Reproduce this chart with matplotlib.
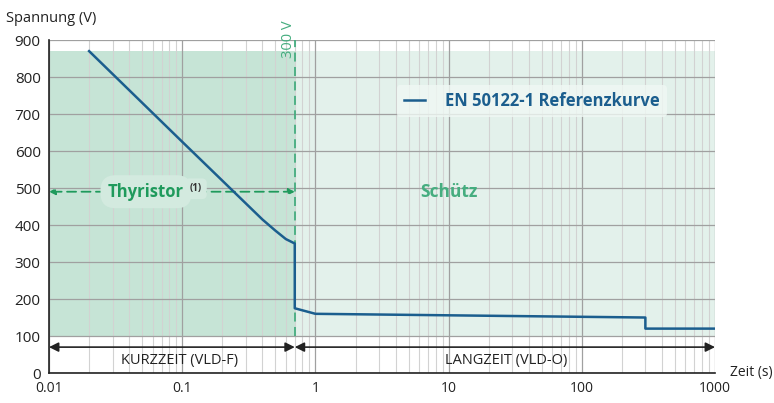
import matplotlib.pyplot as plt
from matplotlib.ticker import FixedLocator, LogLocator, NullFormatter

plt.rcParams['font.family'] = ['Open Sans', 'DejaVu Sans']

# EN 50122-1 reference curve (time in s, voltage in V)
curve_t = [0.02, 0.1, 0.4, 0.5, 0.6, 0.7, 0.7, 1.0, 300, 300, 1000]
curve_v = [870, 625, 415, 385, 362, 350, 175, 160, 150, 120, 120]

t_switch = 0.7          # boundary short-time / long-time
v_shade = (100, 870)    # shaded band
v_range_arrow = 70
v_thyristor = 490
x_ticks = [0.01, 0.1, 1, 10, 100, 1000]
x_labels = ['0.01', '0.1', '1', '10', '100', '1000']
y_ticks = list(range(0, 1000, 100))

blue = '#1b5e8e'
green = '#1f9a5c'
green_light = '#45ad7f'
glow = '#d3eadf'

fig = plt.figure(figsize=(7.74, 4.03), dpi=100)
ax = fig.add_axes([0.0633, 0.0744, 0.8605, 0.8263])
ax.set_xscale('log')
ax.set_xlim(0.01, 1000)
ax.set_ylim(0, 900)

# shaded regions
ax.fill_between([0.01, t_switch], v_shade[0], v_shade[1], color='#c6e4d6', lw=0, zorder=1)
ax.fill_between([t_switch, 1000], v_shade[0], v_shade[1], color='#e3f1eb', lw=0, zorder=1)

# grid
ax.set_axisbelow('line')
ax.xaxis.set_major_locator(FixedLocator(x_ticks))
ax.xaxis.set_minor_locator(LogLocator(base=10, subs=range(2, 10)))
ax.xaxis.set_minor_formatter(NullFormatter())
ax.set_xticks(x_ticks)
ax.set_xticklabels(x_labels)
ax.set_yticks(y_ticks)
ax.grid(True, which='major', color='#a0a0a0', lw=0.9)
ax.grid(True, which='minor', axis='x', color='#d2d2d2', lw=0.8)
ax.tick_params(which='both', length=0, colors='#222222', pad=6)
ax.tick_params(axis='x', labelsize=10)
ax.tick_params(axis='y', labelsize=11)
for s in ['top', 'right']:
    ax.spines[s].set_visible(False)
for s in ['left', 'bottom']:
    ax.spines[s].set_color('#222222')
    ax.spines[s].set_linewidth(1.2)

# 300 V dashed line
ax.plot([t_switch, t_switch], [v_shade[0], 900], color=green_light, ls=(0, (5, 3)), lw=1.3, zorder=2)
ax.text(0.63, 852, '300 V', rotation=90, ha='center', va='bottom', color=green_light,
        fontsize=10.5, clip_on=False)

# curve
ax.plot(curve_t, curve_v, color=blue, lw=1.8, zorder=3, label='EN 50122-1 Referenzkurve')

# range arrows
arrow_kw = dict(arrowstyle='<|-|>', color='#222222', lw=1.2, mutation_scale=14, shrinkA=0, shrinkB=0)
ax.annotate('', xy=(0.01, v_range_arrow), xytext=(t_switch, v_range_arrow), arrowprops=arrow_kw)
ax.annotate('', xy=(t_switch, v_range_arrow), xytext=(1000, v_range_arrow), arrowprops=arrow_kw)
ax.text(0.095, 35, 'KURZZEIT (VLD-F)', ha='center', va='center', fontsize=10.5, color='#222222')
ax.text(27, 35, 'LANGZEIT (VLD-O)', ha='center', va='center', fontsize=10.5, color='#222222')

# thyristor range
ax.annotate('', xy=(0.01, v_thyristor), xytext=(t_switch, v_thyristor),
            arrowprops=dict(arrowstyle='<|-|>', color=green, lw=1.3, ls=(0, (5, 3)),
                            mutation_scale=9, shrinkA=0, shrinkB=0), zorder=2)
ax.text(0.0535, v_thyristor, 'Thyristor', ha='center', va='center', fontsize=12,
        fontweight='bold', color=green, zorder=4,
        bbox=dict(boxstyle='round,pad=0.45,rounding_size=0.9', fc=glow, ec='none'))
ax.text(0.114, v_thyristor + 8, '(1)', ha='left', va='center', fontsize=7,
        fontweight='bold', color='#333333', zorder=5,
        bbox=dict(boxstyle='round,pad=0.5', fc=glow, ec='none'))

ax.text(10, v_thyristor, 'Schütz', ha='center', va='center', fontsize=12.5,
        fontweight='bold', color=green_light)

# legend
leg = ax.legend(loc='center left', bbox_to_anchor=(0.51, 0.817), frameon=True,
                prop=dict(size=12, weight='bold'), labelcolor=blue, handlelength=1.3,
                handletextpad=1.2, borderpad=0.4)
leg.get_frame().set_facecolor('#f0f8f4')
leg.get_frame().set_edgecolor('none')
leg.get_frame().set_alpha(0.8)

# axis titles
fig.text(0.008, 0.955, 'Spannung (V)', fontsize=10.5, color='#222222', va='center', ha='left')
fig.text(0.943, 0.075, 'Zeit (s)', fontsize=10, color='#222222', va='center', ha='left')

fig.savefig('out.png', dpi=100)
